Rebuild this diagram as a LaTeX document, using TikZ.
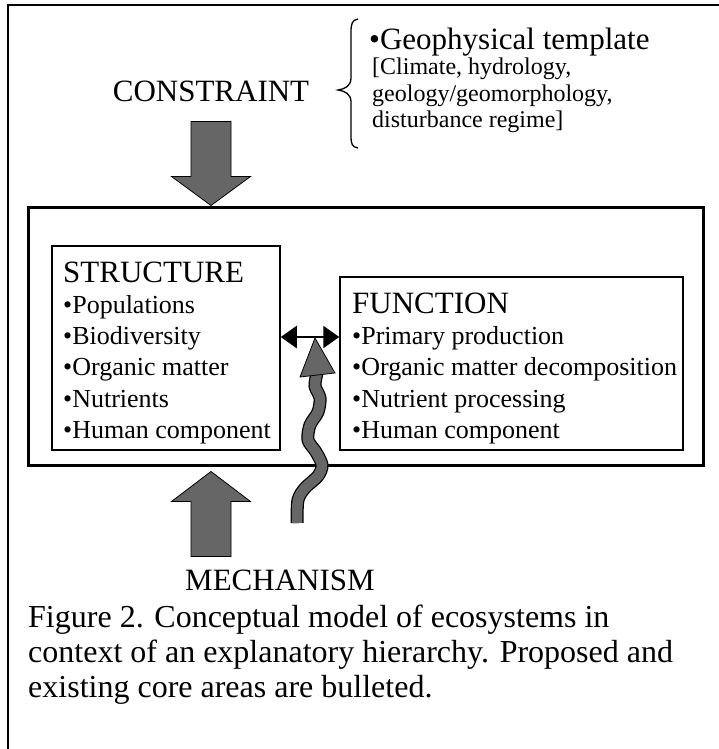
\documentclass[tikz,border=0pt]{standalone}
\usepackage{fontspec}
\setmainfont{Liberation Serif}
\usetikzlibrary{arrows.meta,calc}
\begin{document}
\begin{tikzpicture}[x=1pt,y=-1pt,
  lbl/.style={inner sep=0pt, font=\fontsize{31}{31}\selectfont},
  item/.style={inner sep=0pt, anchor=base west, font=\fontsize{26}{26}\selectfont},
  note/.style={inner sep=0pt, anchor=base west, font=\fontsize{24}{24}\selectfont},
  capline/.style={inner sep=0pt, anchor=base west, font=\fontsize{32}{32}\selectfont},
  panel/.style={draw, line width=1.5pt, inner sep=0pt},
  blockarrow/.style={fill=black!60, draw=black, line width=0.8pt},
  link/.style={line width=2.5pt, {Triangle[length=16pt,width=22pt]}-{Triangle[length=16pt,width=22pt]}},
  ]
\useasboundingbox (0,0) rectangle (719,749);
% page frame (top and left rules)
\draw[line width=2pt] (719,5) -- (8,5) -- (8,749);

% constraint label with the geophysical template note
\node[lbl, anchor=base] (constraint) at (211,102) {CONSTRAINT};
\node[lbl, anchor=base west] (geo) at (369,50) {•Geophysical template};
\node[note] (geo1) at (372,75) {[Climate, hydrology,};
\node[note] (geo2) at (372,102) {geology/geomorphology,};
\node[note] (geo3) at (372,128) {disturbance regime]};
\draw[line width=1.3pt] (358,19) .. controls (352,20) and (351,24) .. (351,32)
  -- (351,78) .. controls (351,86) and (345,89) .. (338,90)
  .. controls (345,91) and (351,94) .. (351,102)
  -- (351,136) .. controls (351,144) and (352,147) .. (358,148);

% ecosystem box with its two panels
\node[draw, line width=3pt, minimum width=675pt, minimum height=258pt, inner sep=0pt] (eco) at (365.5,336) {};
\node[panel, minimum width=228pt, minimum height=204pt] (sbox) at (166,348) {};
\node[panel, minimum width=343pt, minimum height=173pt] (fbox) at (511.5,363.5) {};

\node[lbl, anchor=base west] (stitle) at (63,282) {STRUCTURE};
\node[item] (s1) at (63,313) {•Populations};
\node[item] (s2) at (63,344) {•Biodiversity};
\node[item] (s3) at (63,375) {•Organic matter};
\node[item] (s4) at (63,407) {•Nutrients};
\node[item] (s5) at (63,438) {•Human component};

\node[lbl, anchor=base west] (ftitle) at (352,313) {FUNCTION};
\node[item] (f1) at (352,344) {•Primary production};
\node[item] (f2) at (352,375) {•Organic matter decomposition};
\node[item] (f3) at (352,407) {•Nutrient processing};
\node[item] (f4) at (352,438) {•Human component};

% two-way link between structure and function
\draw[link] ([yshift=11pt]sbox.east) -- ([yshift=11pt]sbox.east -| fbox.west);

% constraint arrow (down) and mechanism arrow (up)
\coordinate (ctip) at (constraint.south |- eco.north);
\filldraw[blockarrow] (ctip) -- ++(-39.5,-29) -- ++(19.5,0) -- ++(0,-55) -- ++(40,0) -- ++(0,55) -- ++(19.5,0) -- cycle;

\node[lbl, anchor=base west] (mechanism) at (185,590) {MECHANISM};
\coordinate (mtip) at ($(ctip |- eco.south)+(0,5)$);
\filldraw[blockarrow] (mtip) -- ++(-39.5,30) -- ++(19.5,0) -- ++(0,55) -- ++(40,0) -- ++(0,-55) -- ++(19.5,0) -- cycle;

% wavy mechanism arrow rising to the link
\coordinate (wbase) at (297,523);
\coordinate (wtip) at (315,338);
\def\wavepath{plot[smooth] coordinates {(wbase) (298,500) (305,488) (318,476) (322,465) (316,452) (308,440) (310,425) (318,412) (320,398) (315,386) (317,373)}}
\draw[line width=13pt, black] \wavepath;
\draw[line width=10.5pt, black!60] \wavepath;
\filldraw[blockarrow] (300,377) -- (wtip) -- (335,373) -- cycle;

% caption
\node[capline] (cap1) at (28,627) {Figure 2. Conceptual model of ecosystems in};
\node[capline] (cap2) at (28,662) {context of an explanatory hierarchy. Proposed and};
\node[capline] (cap3) at (28,697) {existing core areas are bulleted.};
\end{tikzpicture}
\end{document}
